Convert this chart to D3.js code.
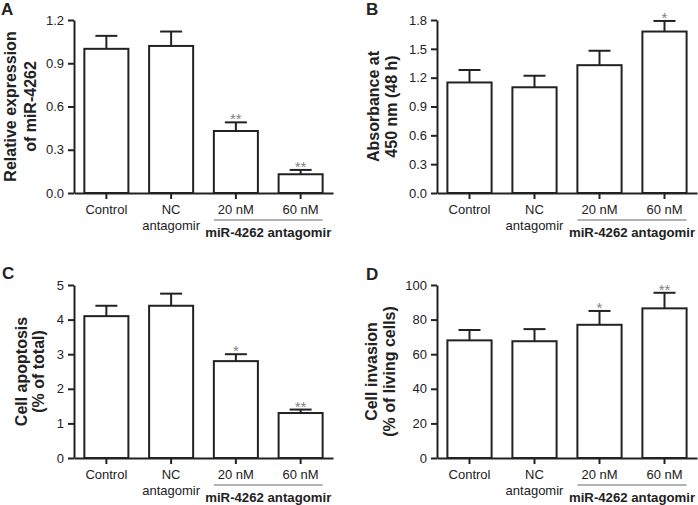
<!DOCTYPE html>
<html>
<head>
<meta charset="utf-8">
<script src="https://cdn.jsdelivr.net/npm/d3@7"></script>
<style>
  html, body { margin: 0; padding: 0; background: #fff; }
  svg { display: block; font-family: "Liberation Sans", Arial, Helvetica, sans-serif; }
</style>
</head>
<body>
<svg id="chart" width="698" height="505"></svg>
<script>
// ---- data ----
const categories = ["Control", "NC", "20 nM", "60 nM"];
const categorySubLabels = ["", "antagomir", "", ""];
const groupLabel = "miR-4262 antagomir";

const valuesA = [1.00, 1.02, 0.43, 0.13];
const errorsA = [0.09, 0.10, 0.06, 0.03];
const starsA  = ["", "", "**", "**"];
const ticksA  = [0, 0.3, 0.6, 0.9, 1.2];

const valuesB = [1.15, 1.10, 1.33, 1.68];
const errorsB = [0.13, 0.12, 0.15, 0.11];
const starsB  = ["", "", "", "*"];
const ticksB  = [0, 0.3, 0.6, 0.9, 1.2, 1.5, 1.8];

const valuesC = [4.1, 4.4, 2.8, 1.3];
const errorsC = [0.3, 0.35, 0.2, 0.1];
const starsC  = ["", "", "*", "**"];
const ticksC  = [0, 1, 2, 3, 4, 5];

const valuesD = [68, 67.5, 77, 86.5];
const errorsD = [6, 7, 8, 9];
const starsD  = ["", "", "*", "**"];
const ticksD  = [0, 20, 40, 60, 80, 100];

const titleA = ["Relative expression", "of miR-4262"];
const titleB = ["Absorbance at", "450 nm (48 h)"];
const titleC = ["Cell apoptosis", "(% of total)"];
const titleD = ["Cell invasion", "(% of living cells)"];

// ---- layout ----
const ink = "#222";
const svg = d3.select("#chart");

const panels = [
  { letter: "A", values: valuesA, errors: errorsA, stars: starsA, ticks: ticksA, fmt: d3.format(".1f"), title: titleA,
    x0: 74, x1: 333, yTop: 20, yBot: 193, titleX: [16, 36], letterX: 1, letterY: 15 },
  { letter: "B", values: valuesB, errors: errorsB, stars: starsB, ticks: ticksB, fmt: d3.format(".1f"), title: titleB,
    x0: 437, x1: 697, yTop: 20, yBot: 193, titleX: [379, 397], letterX: 366, letterY: 15 },
  { letter: "C", values: valuesC, errors: errorsC, stars: starsC, ticks: ticksC, fmt: d3.format("d"), title: titleC,
    x0: 74, x1: 333, yTop: 285, yBot: 458, titleX: [27, 44], letterX: 2, letterY: 279 },
  { letter: "D", values: valuesD, errors: errorsD, stars: starsD, ticks: ticksD, fmt: d3.format("d"), title: titleD,
    x0: 437, x1: 697, yTop: 285, yBot: 458, titleX: [377, 395], letterX: 366, letterY: 280 }
];

panels.forEach(p => {
  const g = svg.append("g");
  const x = d3.scaleBand().domain(categories).range([p.x0, p.x1]).paddingInner(0.32).paddingOuter(0.16);
  const y = d3.scaleLinear().domain([p.ticks[0], p.ticks[p.ticks.length - 1]]).range([p.yBot, p.yTop]);
  const capHalf = 11;

  // bars
  g.selectAll("rect.bar").data(p.values).join("rect")
    .attr("class", "bar")
    .attr("x", (d, i) => x(categories[i]))
    .attr("y", d => y(d))
    .attr("width", x.bandwidth())
    .attr("height", d => y(0) - y(d))
    .attr("fill", "#fff")
    .attr("stroke", ink)
    .attr("stroke-width", 2);

  // error bars (upper half)
  const cx = i => x(categories[i]) + x.bandwidth() / 2;
  g.selectAll("line.err").data(p.values).join("line")
    .attr("class", "err")
    .attr("x1", (d, i) => cx(i)).attr("x2", (d, i) => cx(i))
    .attr("y1", d => y(d)).attr("y2", (d, i) => y(d + p.errors[i]))
    .attr("stroke", ink).attr("stroke-width", 2);
  g.selectAll("line.cap").data(p.values).join("line")
    .attr("class", "cap")
    .attr("x1", (d, i) => cx(i) - capHalf).attr("x2", (d, i) => cx(i) + capHalf)
    .attr("y1", (d, i) => y(d + p.errors[i])).attr("y2", (d, i) => y(d + p.errors[i]))
    .attr("stroke", ink).attr("stroke-width", 2);

  // significance stars
  g.selectAll("text.star").data(p.values).join("text")
    .attr("class", "star")
    .attr("x", (d, i) => cx(i))
    .attr("y", (d, i) => y(d + p.errors[i]) + 2)
    .attr("text-anchor", "middle")
    .attr("font-size", 15)
    .attr("fill", "#808080")
    .text((d, i) => p.stars[i]);

  // y axis
  const yAxis = g.append("g").attr("transform", `translate(${p.x0},0)`)
    .call(d3.axisLeft(y).tickValues(p.ticks).tickFormat(p.fmt).tickSize(6).tickSizeOuter(0).tickPadding(4));
  yAxis.select(".domain").attr("stroke", ink).attr("stroke-width", 2);
  yAxis.selectAll(".tick line").attr("stroke", ink).attr("stroke-width", 2);
  yAxis.selectAll(".tick text").attr("font-size", 13).attr("fill", ink).attr("font-family", "Liberation Sans, Arial, sans-serif");

  // x axis
  const xAxis = g.append("g").attr("transform", `translate(0,${p.yBot})`)
    .call(d3.axisBottom(x).tickSize(6).tickSizeOuter(0).tickFormat(""));
  xAxis.select(".domain").attr("stroke", ink).attr("stroke-width", 2);
  xAxis.selectAll(".tick line").attr("stroke", ink).attr("stroke-width", 2);

  // x labels
  g.selectAll("text.xlab").data(categories).join("text")
    .attr("class", "xlab")
    .attr("x", (d, i) => cx(i)).attr("y", p.yBot + 21)
    .attr("text-anchor", "middle").attr("font-size", 13).attr("fill", ink)
    .text(d => d);
  g.selectAll("text.xsub").data(categorySubLabels).join("text")
    .attr("class", "xsub")
    .attr("x", (d, i) => cx(i)).attr("y", p.yBot + 37)
    .attr("text-anchor", "middle").attr("font-size", 13).attr("fill", ink)
    .text(d => d);

  // group bracket line and label
  g.append("line")
    .attr("x1", x(categories[2])).attr("x2", x(categories[3]) + x.bandwidth())
    .attr("y1", p.yBot + 27).attr("y2", p.yBot + 27)
    .attr("stroke", "#999").attr("stroke-width", 1.5);
  g.append("text")
    .attr("x", (cx(2) + cx(3)) / 2).attr("y", p.yBot + 44)
    .attr("text-anchor", "middle").attr("font-size", 13.2).attr("font-weight", "bold").attr("fill", ink)
    .text(groupLabel);

  // y title
  const yc = (p.yTop + p.yBot) / 2;
  p.title.forEach((t, k) => {
    g.append("text")
      .attr("transform", `translate(${p.titleX[k]},${yc}) rotate(-90)`)
      .attr("text-anchor", "middle").attr("font-size", 16).attr("font-weight", "bold").attr("fill", ink)
      .text(t);
  });

  // panel letter
  g.append("text")
    .attr("x", p.letterX).attr("y", p.letterY)
    .attr("font-size", 17).attr("font-weight", "bold").attr("fill", ink)
    .text(p.letter);
});
</script>
</body>
</html>
